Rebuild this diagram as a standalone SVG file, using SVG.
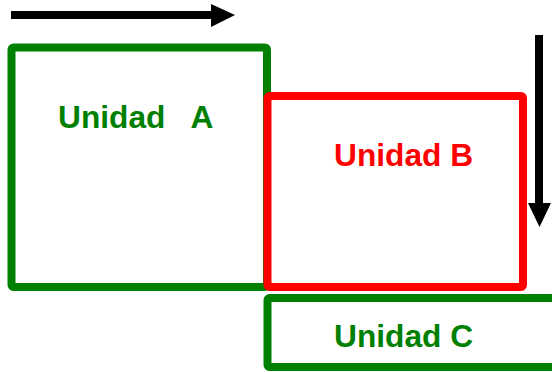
<svg xmlns="http://www.w3.org/2000/svg" width="552" height="372" viewBox="0 0 552 372">
<style>
.box{fill:#fff;stroke-width:8;stroke-linejoin:round}
.g{stroke:#008000}
.r{stroke:#ff0000}
.t{font-family:"Liberation Sans",Arial,sans-serif;font-weight:bold;font-size:31.7px;white-space:pre}
.arr{stroke:#000;stroke-width:8;fill:none}
</style>
<rect width="552" height="372" fill="#fff"/>
<g id="unidad-a">
<rect class="box g" x="11.5" y="47.5" width="255.5" height="239.5" rx="2"/>
<text class="t" x="58" y="128" fill="#008000" xml:space="preserve">Unidad   A</text>
</g>
<g id="unidad-b">
<rect class="box r" x="267.5" y="96" width="255.5" height="191" rx="2"/>
<text class="t" x="334" y="166" fill="#ff0000">Unidad B</text>
</g>
<g id="unidad-c">
<rect class="box g" x="267.5" y="298" width="290" height="69" rx="2"/>
<text class="t" x="334" y="347" fill="#008000">Unidad C</text>
</g>
<g id="connectors">
<line class="arr" x1="11" y1="15" x2="213" y2="15"/>
<polygon points="211,4 235,15 211,27" fill="#000"/>
<line class="arr" x1="539" y1="35" x2="539" y2="205"/>
<polygon points="528,203 551,203 539.5,227" fill="#000"/>
</g>
</svg>
